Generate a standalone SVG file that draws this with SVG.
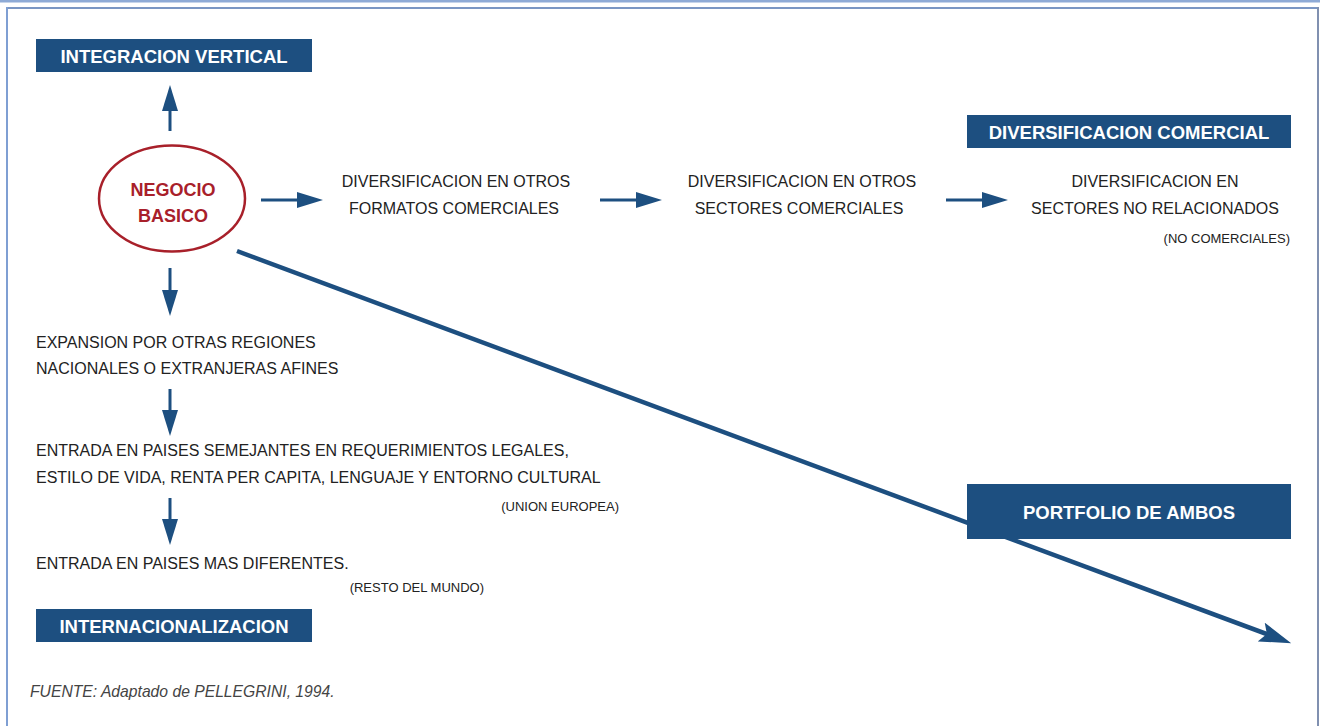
<svg xmlns="http://www.w3.org/2000/svg" width="1320" height="726" viewBox="0 0 1320 726">
  <style>
    .box { fill: #1d4f80; }
    .boxtxt { fill: #ffffff; font-family: "Liberation Sans", Arial, sans-serif; font-weight: bold; font-size: 18.5px; text-anchor: middle; }
    .red { fill: #a8202a; font-family: "Liberation Sans", Arial, sans-serif; font-weight: bold; font-size: 18px; text-anchor: middle; }
    .txt { fill: #222222; font-family: "Liberation Sans", Arial, sans-serif; font-size: 16px; }
    .mid { text-anchor: middle; }
    .small { fill: #222222; font-family: "Liberation Sans", Arial, sans-serif; font-size: 13px; text-anchor: end; }
    .src { fill: #444444; font-family: "Liberation Sans", Arial, sans-serif; font-size: 15.7px; font-style: italic; }
    .arr { stroke: #1d4f80; stroke-width: 3; fill: none; }
    .diag { stroke: #1d4f80; stroke-width: 4.5; fill: none; }
  </style>
  <defs>
    <marker id="head" markerUnits="userSpaceOnUse" markerWidth="26" markerHeight="16" viewBox="0 0 26 16" refX="16" refY="8" orient="auto">
      <path d="M0,0 L26,8 L0,16 z" fill="#1d4f80"/>
    </marker>
    <marker id="bighead" markerUnits="userSpaceOnUse" markerWidth="32" markerHeight="20" viewBox="0 0 32 20" refX="20" refY="10" orient="auto">
      <path d="M0,0 L32,10 L0,20 L6,10 z" fill="#1d4f80"/>
    </marker>
  </defs>

  <rect x="0" y="0" width="1320" height="726" fill="#ffffff"/>
  <g id="frame">
    <rect x="0" y="0" width="1320" height="2.5" fill="#8eaad6"/>
    <rect x="6" y="7" width="1313" height="2" fill="#7a96c4"/>
    <rect x="6" y="7" width="2" height="719" fill="#7f9fd3"/>
    <rect x="1317" y="7" width="2" height="719" fill="#8090b0"/>
  </g>

  <g id="connectors">
    <line class="arr" x1="170" y1="131" x2="170" y2="95" marker-end="url(#head)"/>
    <line class="arr" x1="261" y1="200" x2="313" y2="200" marker-end="url(#head)"/>
    <line class="arr" x1="600" y1="200" x2="652" y2="200" marker-end="url(#head)"/>
    <line class="arr" x1="946" y1="200" x2="998" y2="200" marker-end="url(#head)"/>
    <line class="arr" x1="170" y1="268" x2="170" y2="306" marker-end="url(#head)"/>
    <line class="arr" x1="170" y1="389" x2="170" y2="426" marker-end="url(#head)"/>
    <line class="arr" x1="170" y1="498" x2="170" y2="535" marker-end="url(#head)"/>
    <line class="diag" x1="237" y1="251" x2="1280" y2="639" marker-end="url(#bighead)"/>
  </g>

  <g id="integracion-vertical">
    <rect class="box" x="36" y="39" width="276" height="33"/>
    <text class="boxtxt" x="174" y="63">INTEGRACION VERTICAL</text>
  </g>

  <g id="negocio-basico">
    <ellipse cx="172" cy="198.5" rx="73" ry="53" fill="#ffffff" stroke="#a8202a" stroke-width="2.5"/>
    <text class="red" x="173" y="196">NEGOCIO</text>
    <text class="red" x="173" y="222">BASICO</text>
  </g>

  <g id="formatos">
    <text class="txt mid" x="456" y="187">DIVERSIFICACION EN OTROS</text>
    <text class="txt mid" x="454" y="214">FORMATOS COMERCIALES</text>
  </g>

  <g id="sectores">
    <text class="txt mid" x="802" y="187">DIVERSIFICACION EN OTROS</text>
    <text class="txt mid" x="799" y="214">SECTORES COMERCIALES</text>
  </g>

  <g id="no-relacionados">
    <text class="txt mid" x="1155" y="187">DIVERSIFICACION EN</text>
    <text class="txt mid" x="1155" y="214">SECTORES NO RELACIONADOS</text>
    <text class="small" x="1290" y="243">(NO COMERCIALES)</text>
  </g>

  <g id="diversificacion-comercial">
    <rect class="box" x="967" y="115" width="324" height="33"/>
    <text class="boxtxt" x="1129" y="139">DIVERSIFICACION COMERCIAL</text>
  </g>

  <g id="portfolio">
    <rect class="box" x="967" y="484" width="324" height="55"/>
    <text class="boxtxt" x="1129" y="519">PORTFOLIO DE AMBOS</text>
  </g>

  <g id="expansion">
    <text class="txt" x="36" y="348">EXPANSION POR OTRAS REGIONES</text>
    <text class="txt" x="36" y="374">NACIONALES O EXTRANJERAS AFINES</text>
  </g>

  <g id="paises-semejantes">
    <text class="txt" x="36" y="456">ENTRADA EN PAISES SEMEJANTES EN REQUERIMIENTOS LEGALES,</text>
    <text class="txt" x="36" y="483">ESTILO DE VIDA, RENTA PER CAPITA, LENGUAJE Y ENTORNO CULTURAL</text>
    <text class="small" x="619" y="511">(UNION EUROPEA)</text>
  </g>

  <g id="paises-diferentes">
    <text class="txt" x="36" y="569">ENTRADA EN PAISES MAS DIFERENTES.</text>
    <text class="small" x="484" y="592">(RESTO DEL MUNDO)</text>
  </g>

  <g id="internacionalizacion">
    <rect class="box" x="36" y="609" width="276" height="33"/>
    <text class="boxtxt" x="174" y="633">INTERNACIONALIZACION</text>
  </g>

  <g id="fuente">
    <text class="src" x="30" y="697">FUENTE: Adaptado de PELLEGRINI, 1994.</text>
  </g>
</svg>
